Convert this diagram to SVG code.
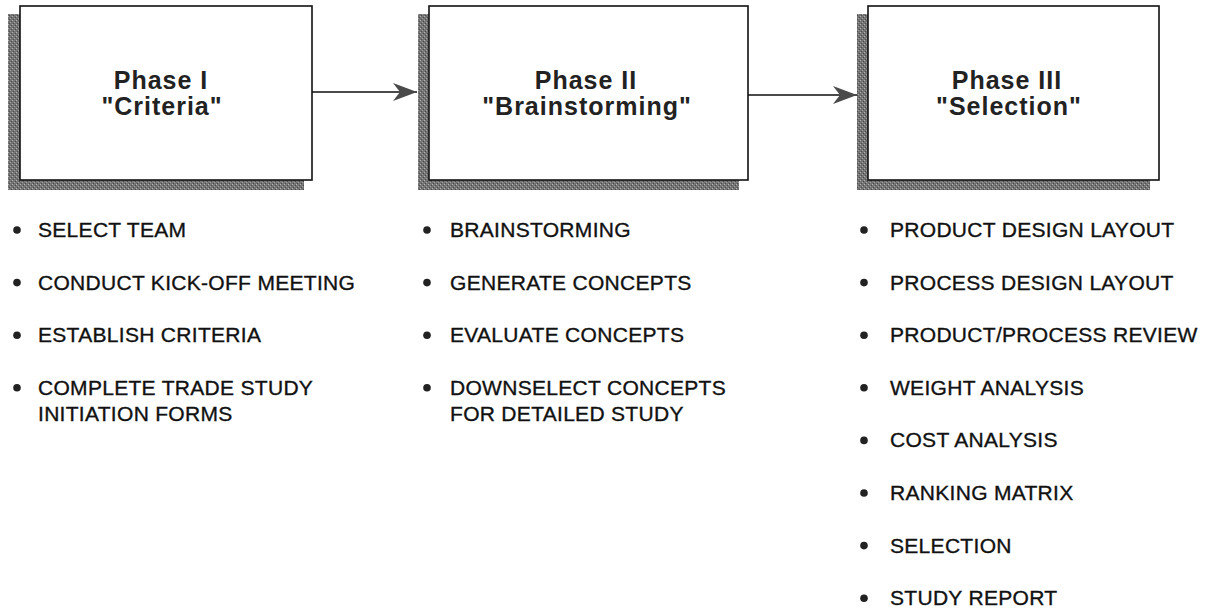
<svg xmlns="http://www.w3.org/2000/svg" width="1207" height="613" viewBox="0 0 1207 613">
<defs>
<pattern id="grain" width="4" height="4" patternUnits="userSpaceOnUse">
<rect width="4" height="4" fill="#747474"/>
<rect x="0" y="0" width="1" height="1" fill="#b4b4b4"/>
<rect x="2" y="2" width="1" height="1" fill="#a4a4a4"/>
<rect x="3" y="1" width="1" height="1" fill="#4a4a4a"/>
<rect x="1" y="3" width="1" height="1" fill="#4a4a4a"/>
</pattern>
<marker id="arr" markerWidth="24" markerHeight="20" refX="24" refY="10" orient="auto" markerUnits="userSpaceOnUse">
<path d="M0,1 L24,10 L0,19 L7,10 Z" fill="#4a4a4a"/>
</marker>
<style>
.shadow{fill:url(#grain);}
.face{fill:#fff;stroke:#111;stroke-width:1.6;}
.title{font-family:"Liberation Sans",Arial,sans-serif;font-weight:bold;font-size:25px;letter-spacing:1px;fill:#222;text-anchor:middle;}
.item{font-family:"Liberation Sans",Arial,sans-serif;font-size:21px;letter-spacing:0.3px;fill:#111;stroke:#111;stroke-width:0.35;}
.dot{fill:#222;}
.conn{stroke:#4a4a4a;stroke-width:2;fill:none;}
</style>
</defs>
<rect width="1207" height="613" fill="#fff"/>

<g id="connectors">
<line class="conn" x1="312" y1="92" x2="417" y2="92" marker-end="url(#arr)"/>
<line class="conn" x1="748" y1="95" x2="857" y2="95" marker-end="url(#arr)"/>
</g>

<g id="phase1">
<rect class="shadow" x="8" y="14" width="296" height="176"/>
<rect class="face" x="20" y="6" width="292" height="174"/>
<text class="title" x="161" y="89">Phase I</text>
<text class="title" x="162" y="115">"Criteria"</text>
</g>

<g id="phase2">
<rect class="shadow" x="418" y="14" width="321" height="176"/>
<rect class="face" x="429" y="6" width="319" height="174"/>
<text class="title" x="586" y="89">Phase II</text>
<text class="title" x="587" y="115">"Brainstorming"</text>
</g>

<g id="phase3">
<rect class="shadow" x="857" y="14" width="293" height="176"/>
<rect class="face" x="868" y="6" width="291" height="174"/>
<text class="title" x="1007" y="89">Phase III</text>
<text class="title" x="1009" y="115">"Selection"</text>
</g>

<g id="list1">
<circle class="dot" cx="17" cy="230" r="3.8"/>
<text class="item" x="38" y="237">SELECT TEAM</text>
<circle class="dot" cx="17" cy="282.6" r="3.8"/>
<text class="item" x="38" y="289.6">CONDUCT KICK-OFF MEETING</text>
<circle class="dot" cx="17" cy="335.2" r="3.8"/>
<text class="item" x="38" y="342.2">ESTABLISH CRITERIA</text>
<circle class="dot" cx="17" cy="387.8" r="3.8"/>
<text class="item" x="38" y="394.8">COMPLETE TRADE STUDY</text>
<text class="item" x="38" y="420.8">INITIATION FORMS</text>
</g>

<g id="list2">
<circle class="dot" cx="427" cy="230" r="3.8"/>
<text class="item" x="450" y="237">BRAINSTORMING</text>
<circle class="dot" cx="427" cy="282.6" r="3.8"/>
<text class="item" x="450" y="289.6">GENERATE CONCEPTS</text>
<circle class="dot" cx="427" cy="335.2" r="3.8"/>
<text class="item" x="450" y="342.2">EVALUATE CONCEPTS</text>
<circle class="dot" cx="427" cy="387.8" r="3.8"/>
<text class="item" x="450" y="394.8">DOWNSELECT CONCEPTS</text>
<text class="item" x="450" y="420.8">FOR DETAILED STUDY</text>
</g>

<g id="list3">
<circle class="dot" cx="864" cy="230" r="3.8"/>
<text class="item" x="890" y="237">PRODUCT DESIGN LAYOUT</text>
<circle class="dot" cx="864" cy="282.6" r="3.8"/>
<text class="item" x="890" y="289.6">PROCESS DESIGN LAYOUT</text>
<circle class="dot" cx="864" cy="335.2" r="3.8"/>
<text class="item" x="890" y="342.2">PRODUCT/PROCESS REVIEW</text>
<circle class="dot" cx="864" cy="387.8" r="3.8"/>
<text class="item" x="890" y="394.8">WEIGHT ANALYSIS</text>
<circle class="dot" cx="864" cy="440.4" r="3.8"/>
<text class="item" x="890" y="447.4">COST ANALYSIS</text>
<circle class="dot" cx="864" cy="493" r="3.8"/>
<text class="item" x="890" y="500">RANKING MATRIX</text>
<circle class="dot" cx="864" cy="545.6" r="3.8"/>
<text class="item" x="890" y="552.6">SELECTION</text>
<circle class="dot" cx="864" cy="598.2" r="3.8"/>
<text class="item" x="890" y="605.2">STUDY REPORT</text>
</g>
</svg>
